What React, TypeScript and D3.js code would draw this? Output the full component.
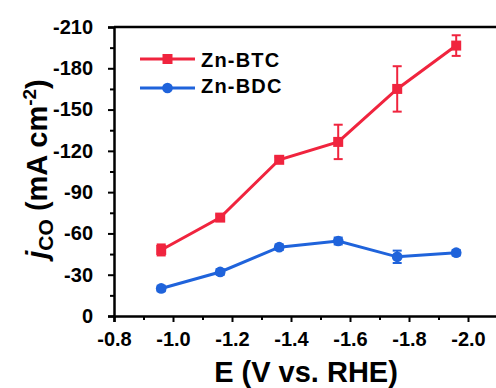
import { useEffect, useRef } from "react";
import * as d3 from "d3";

const potentials = [-0.96, -1.16, -1.36, -1.56, -1.76, -1.96];
const btcValues = [-48, -71.5, -113.5, -126.5, -165, -196.5];
const btcErrors = [4, 2, 2, 12.5, 16.5, 7.5];
const bdcValues = [-20, -32, -50, -54.5, -43, -46];
const bdcErrors = [2, 2, 2, 2.5, 4.5, 2];
const xTicks = [-0.8, -1.0, -1.2, -1.4, -1.6, -1.8, -2.0];
const yTicks = [0, -30, -60, -90, -120, -150, -180, -210];
const seriesNames = ["Zn-BTC", "Zn-BDC"];

const RED = "#f0243e";
const BLUE = "#1f63db";
const FONT = "Arial, 'Liberation Sans', sans-serif";

export default function App() {
  const ref = useRef<SVGSVGElement>(null);

  useEffect(() => {
    const svg = d3.select(ref.current);
    svg.selectAll("*").remove();

    // right part of the frame is cropped off in the original
    const x = d3.scaleLinear().domain([-0.8, -2.1]).range([114, 497.5]);
    const y = d3.scaleLinear().domain([0, -210]).range([316, 27]);

    svg.append("line").attr("x1", 114).attr("x2", 496).attr("y1", 27).attr("y2", 27)
      .attr("stroke", "#000").attr("stroke-width", 2.5);

    const fmt = (d: d3.NumberValue) => (+d).toFixed(1);
    const xAxis = svg.append("g").attr("transform", "translate(0,316)")
      .call(d3.axisBottom(x).tickValues(xTicks).tickFormat(fmt).tickSize(6));
    svg.append("g").attr("transform", "translate(0,316)")
      .call(d3.axisBottom(x).tickValues(d3.range(-0.9, -2.1, -0.2)).tickFormat(() => "").tickSize(4))
      .call((g) => g.select(".domain").remove());
    const yAxis = svg.append("g").attr("transform", "translate(114,0)")
      .call(d3.axisLeft(y).tickValues(yTicks).tickFormat((d) => String(d)).tickSize(6));
    svg.append("g").attr("transform", "translate(114,0)")
      .call(d3.axisLeft(y).tickValues(d3.range(-15, -210, -30)).tickFormat(() => "").tickSize(4))
      .call((g) => g.select(".domain").remove());

    svg.selectAll(".domain").attr("stroke-width", 2.5);
    svg.selectAll(".tick line").attr("stroke-width", 2);
    [xAxis, yAxis].forEach((g) =>
      g.selectAll("text").attr("font-family", FONT).attr("font-weight", "bold")
        .attr("font-size", 20).attr("fill", "#000")
    );
    xAxis.selectAll("text").attr("y", 16).attr("dy", "0.71em");
    yAxis.selectAll("text").attr("x", -21);

    const series = [
      { values: btcValues, errors: btcErrors, color: RED, type: d3.symbolSquare, size: 100 },
      { values: bdcValues, errors: bdcErrors, color: BLUE, type: d3.symbolCircle, size: 90 },
    ];

    series.forEach((s) => {
      const pts = potentials.map((p, i) => ({ p, v: s.values[i], e: s.errors[i] }));
      const line = d3.line<typeof pts[0]>().x((d) => x(d.p)).y((d) => y(d.v));
      svg.append("path").datum(pts).attr("d", line).attr("fill", "none")
        .attr("stroke", s.color).attr("stroke-width", 3);

      const eb = svg.append("g").attr("stroke", s.color).attr("stroke-width", 2);
      pts.forEach((d) => {
        const cx = x(d.p);
        const y1 = y(d.v - d.e);
        const y2 = y(d.v + d.e);
        eb.append("line").attr("x1", cx).attr("x2", cx).attr("y1", y1).attr("y2", y2);
        eb.append("line").attr("x1", cx - 4.5).attr("x2", cx + 4.5).attr("y1", y1).attr("y2", y1);
        eb.append("line").attr("x1", cx - 4.5).attr("x2", cx + 4.5).attr("y1", y2).attr("y2", y2);
      });

      svg.append("g").selectAll("path").data(pts).join("path")
        .attr("transform", (d) => `translate(${x(d.p)},${y(d.v)})`)
        .attr("d", d3.symbol().type(s.type).size(s.size)()).attr("fill", s.color);
    });

    // legend
    const lineY = [59, 88];
    const textY = [67, 93];
    series.forEach((s, i) => {
      svg.append("line").attr("x1", 140).attr("x2", 195).attr("y1", lineY[i]).attr("y2", lineY[i])
        .attr("stroke", s.color).attr("stroke-width", 3);
      svg.append("path").attr("transform", `translate(167.5,${lineY[i]})`)
        .attr("d", d3.symbol().type(s.type).size(s.size)()).attr("fill", s.color);
      svg.append("text").attr("x", 201).attr("y", textY[i]).text(seriesNames[i])
        .attr("font-family", FONT).attr("font-weight", "bold").attr("font-size", 20)
        .attr("letter-spacing", 1.2);
    });

    // axis titles
    svg.append("text").attr("x", 306).attr("y", 382).attr("text-anchor", "middle")
      .attr("font-family", FONT).attr("font-weight", "bold").attr("font-size", 29)
      .text("E (V vs. RHE)");

    const yl = svg.append("text").attr("transform", "translate(47,169) rotate(-90)")
      .attr("text-anchor", "middle").attr("font-family", FONT).attr("font-weight", "bold")
      .attr("font-size", 29);
    yl.append("tspan").attr("font-style", "italic").text("j");
    yl.append("tspan").attr("dy", 6).attr("font-size", 21).text("CO");
    yl.append("tspan").attr("dy", -6).text(" (mA cm");
    yl.append("tspan").attr("dy", -11).attr("font-size", 19).text("-2");
    yl.append("tspan").attr("dy", 11).text(")");
  }, []);

  return (
    <svg ref={ref} width={496} height={388}
      style={{ position: "absolute", left: 0, top: 0, background: "#fff" }} />
  );
}
